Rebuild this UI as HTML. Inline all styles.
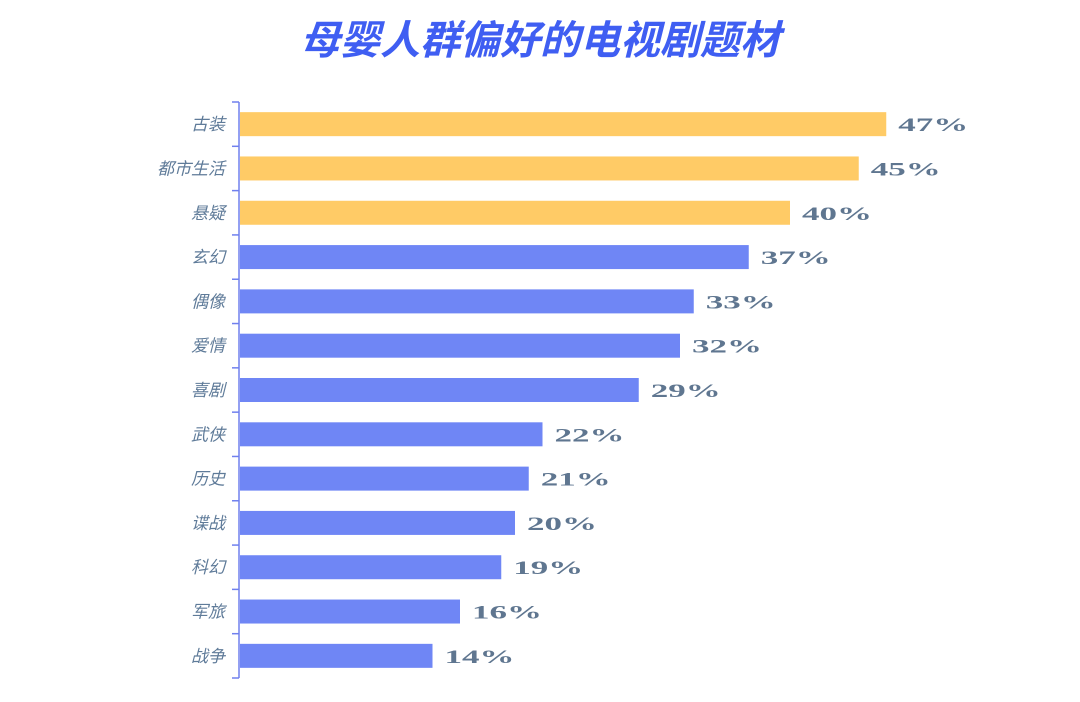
<!DOCTYPE html>
<html><head><meta charset="utf-8"><style>
body{margin:0;background:#fff;width:1080px;height:702px;overflow:hidden}
svg{display:block}
</style></head><body>
<svg id="chart" width="1080" height="702">
<text x="540" y="54" text-anchor="middle" font-family="'Liberation Sans','Noto Sans CJK SC',sans-serif" font-size="40" font-weight="bold" font-style="italic" fill="#3f5ef2">母婴人群偏好的电视剧题材</text>
<g id="plot"></g>
</svg>
<script>
const categories=["古装","都市生活","悬疑","玄幻","偶像","爱情","喜剧","武侠","历史","谍战","科幻","军旅","战争"];
const values=[47,45,40,37,33,32,29,22,21,20,19,16,14];
const highlightCount=3;
const ns="http://www.w3.org/2000/svg";
const plotG=document.getElementById('plot');
const x0=240,k=13.75,plotTop=102,plotBottom=678;
const band=(plotBottom-plotTop)/categories.length,barH=24;
function xs(v){return x0+v*k;}
function yc(i){return plotTop+band*(i+0.5);}
function mk(t,a){const e=document.createElementNS(ns,t);for(const n in a)e.setAttribute(n,a[n]);return e;}
const axis=mk('line',{x1:239,x2:239,y1:plotTop,y2:plotBottom,stroke:'#7080ee','stroke-width':1.5});


plotG.appendChild(axis);
for(let i=0;i<=categories.length;i++){
 const y=plotTop+band*i;
 const t=mk('line',{x1:232,x2:239,y1:y,y2:y,stroke:'#7080ee','stroke-width':1.5});
 
 
 plotG.appendChild(t);
}
categories.forEach((c,i)=>{
 const y=yc(i);
 const r=mk('rect',{x:x0,y:y-barH/2,width:xs(values[i])-x0,height:barH,fill:i<highlightCount?'#ffcb66':'#6f86f5'});
 
 
 plotG.appendChild(r);
 const l=mk('text',{x:225,y:y+6,'text-anchor':'end','font-size':17,'font-style':'italic',fill:'#5f7b99','font-family':"'Liberation Sans','Noto Sans CJK SC',sans-serif"});
 l.textContent=c;
 
 
 plotG.appendChild(l);
 const v=mk('text',{x:xs(values[i])+12,y:y+7,'font-size':19,'font-weight':'bold',fill:'#5f7690','font-family':"'Liberation Serif',serif"});
 v.textContent=values[i]+'%';
 
 
 v.setAttribute('textLength','70');
 v.setAttribute('lengthAdjust','spacingAndGlyphs');
 plotG.appendChild(v);
});
</script>
</body></html>
